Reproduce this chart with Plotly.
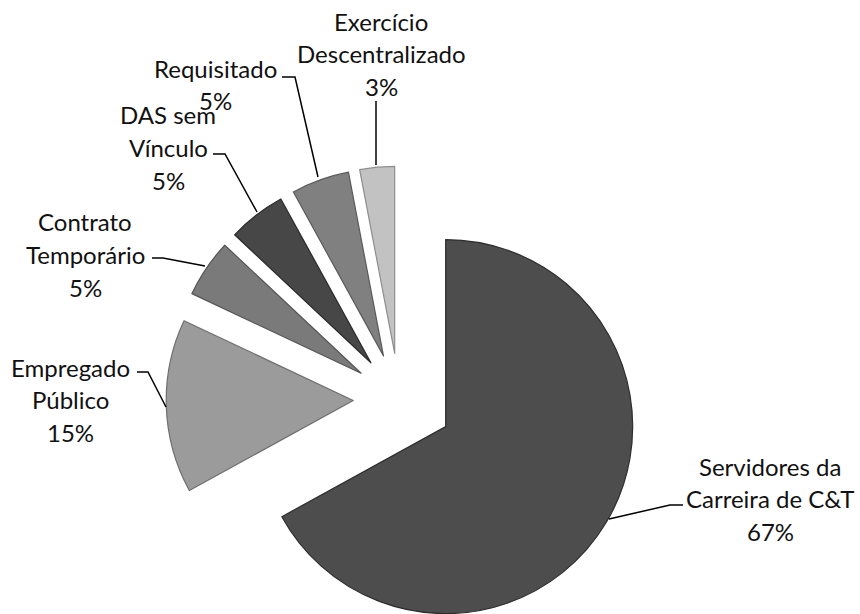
import math
import plotly.graph_objects as go

# ---- data ----
labels = ["Servidores da Carreira de C&T", "Empregado Público", "Contrato Temporário",
          "DAS sem Vínculo", "Requisitado", "Exercício Descentralizado"]
values = [67, 15, 5, 5, 5, 3]
colors = ["#4d4d4d", "#9b9b9b", "#7a7a7a", "#474747", "#808080", "#c2c2c2"]
edge_colors = ["#2e2e2e", "#6e6e6e", "#555555", "#2a2a2a", "#5a5a5a", "#8e8e8e"]
pulls = [0.29, 0.245, 0.245, 0.245, 0.245, 0.245]

# label text lines, anchor (px) and line spacing
label_lines = [
    ["Servidores da", "Carreira de C&T", "67%"],
    ["Empregado", "Público", "15%"],
    ["Contrato", "Temporário", "5%"],
    ["DAS sem", "Vínculo", "5%"],
    ["Requisitado", "5%"],
    ["Exercício", "Descentralizado", "3%"],
]
label_pos = [(770, 466), (70, 367), (85, 222), (168, 115), (215, 68), (381, 21)]
LINE_SP = 32.5
leaders = [
    [(683, 505), (670, 505), (609, 519)],
    [(137, 372), (148, 372), (166, 407)],
    [(152, 258), (163, 258), (205, 266)],
    [(213, 154), (225, 154), (257, 212)],
    [(282, 77), (295, 77), (318, 177)],
    [(376, 101), (376, 165)],
]

W, H = 860, 614
R = 187.0
CX, CY = 399.0, 399.0
FONT = "Lato"

total = sum(values)
fig = go.Figure()
cum = 0.0
for i, v in enumerate(values):
    mid = 2 * math.pi * (cum + v / 2) / total
    cum += v
    vx = CX + pulls[i] * R * math.sin(mid)
    vy = CY - pulls[i] * R * math.cos(mid)
    x0 = max(0.0, (vx - R) / W)
    x1 = min(1.0, (vx + R) / W)
    y0 = max(0.0, 1 - (vy + R) / H)
    y1 = min(1.0, 1 - (vy - R) / H)
    mc = ["rgba(0,0,0,0)"] * len(values)
    lc = ["rgba(0,0,0,0)"] * len(values)
    mc[i] = colors[i]
    lc[i] = edge_colors[i]
    fig.add_trace(go.Pie(
        labels=labels, values=values, sort=False, direction="clockwise", rotation=0,
        marker=dict(colors=mc, line=dict(color=lc, width=1.2)),
        textinfo="none", hoverinfo="label+percent", showlegend=False,
        domain=dict(x=[x0, x1], y=[y0, y1]),
    ))

annotations = []
for lines, (px, py) in zip(label_lines, label_pos):
    for k, t in enumerate(lines):
        annotations.append(dict(
            text=t, x=px / W, y=1 - (py + k * LINE_SP) / H, xref="paper", yref="paper",
            showarrow=False, xanchor="center", yanchor="middle",
            font=dict(family=FONT, size=24, color="#111111"),
        ))

shapes = []
for pts in leaders:
    path = "M " + " L ".join(f"{x / W:.5f},{1 - y / H:.5f}" for x, y in pts)
    shapes.append(dict(type="path", path=path, xref="paper", yref="paper",
                       line=dict(color="black", width=1.5)))

fig.update_layout(
    width=W, height=H, margin=dict(l=0, r=0, t=0, b=0),
    paper_bgcolor="white", plot_bgcolor="white",
    annotations=annotations, shapes=shapes,
)
fig.write_html("out.html", config={"displayModeBar": False},
               post_script="document.body.style.margin='0';document.body.style.overflow='hidden';")
